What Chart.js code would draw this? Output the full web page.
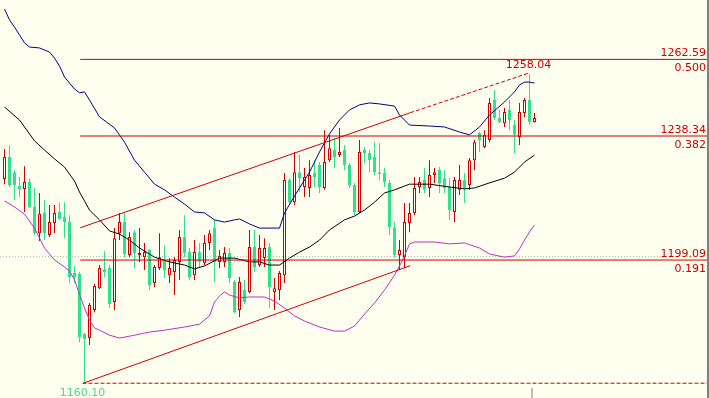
<!DOCTYPE html>
<html>
<head>
<meta charset="utf-8">
<script src="https://cdn.jsdelivr.net/npm/chart.js@4.4.1/dist/chart.umd.min.js"></script>
<style>
  html, body { margin: 0; padding: 0; background: #fffff0; }
  #wrap { width: 707px; height: 398px; border-right: 2px solid #808080; }
</style>
</head>
<body>
<div id="wrap"><canvas id="myChart" width="707" height="398"></canvas></div>
<script>
// candles, oldest first
const opens = [1224.7,1231.7,1226.9,1222.5,1221.6,1223.8,1215.9,1207.6,1214.0,1207.0,
  1210.8,1214.3,1212.7,1211.1,1195.0,1194.7,1175.7,1174.4,1183.3,1190.2,
  1196.2,1196.6,1185.8,1207.6,1211.1,1200.7,1207.9,1200.7,1200.0,1202.3,
  1191.8,1196.6,1199.1,1194.3,1195.3,1198.5,1206.4,1201.6,1194.3,1201.6,
  1198.1,1204.5,1209.2,1198.5,1198.5,1201.3,1192.1,1183.3,1189.6,1189.0,
  1203.2,1197.5,1199.7,1203.2,1189.0,1189.6,1194.3,1224.4,1217.4,1226.9,
  1222.2,1221.9,1226.6,1229.2,1221.9,1230.7,1233.9,1232.3,1233.9,1229.2,
  1222.8,1214.3,1233.9,1233.0,1231.7,1226.9,1226.6,1223.5,1209.5,1200.7,
  1200.0,1210.8,1214.0,1222.2,1224.4,1221.9,1226.0,1227.6,1225.0,1222.2,
  1214.3,1221.3,1224.4,1222.8,1230.7,1239.3,1234.9,1237.1,1249.7,1244.0,
  1242.4,1246.6,1241.8,1238.0,1245.6,1249.7,1242.8];
const highs = [1234.2,1235.5,1227.6,1225.4,1228.8,1225.0,1221.9,1220.3,1218.1,1216.5,
  1216.5,1217.4,1217.4,1213.3,1197.2,1195.3,1176.0,1185.5,1191.5,1197.5,
  1201.9,1197.5,1209.2,1214.0,1214.3,1207.9,1208.6,1209.2,1204.5,1202.6,
  1197.5,1207.6,1203.8,1199.7,1200.0,1208.6,1213.3,1202.9,1205.4,1204.5,
  1207.0,1208.6,1211.8,1202.3,1203.2,1202.9,1192.8,1193.7,1192.8,1208.6,
  1208.6,1207.0,1206.0,1204.5,1193.4,1195.6,1226.6,1225.0,1233.3,1232.3,
  1228.2,1230.7,1230.7,1230.1,1240.2,1238.7,1237.7,1240.9,1235.5,1229.8,
  1223.5,1237.1,1234.9,1233.9,1236.4,1236.1,1228.2,1224.4,1211.1,1205.4,
  1217.1,1217.1,1225.4,1225.4,1228.2,1230.7,1228.2,1228.5,1227.6,1225.0,
  1225.4,1229.2,1226.6,1231.4,1237.1,1239.6,1240.2,1250.4,1252.9,1246.6,
  1247.2,1249.7,1243.4,1248.8,1250.4,1258.04,1245.6];
const lows = [1223.1,1222.2,1218.1,1219.0,1214.3,1215.5,1207.0,1205.1,1205.4,1206.4,
  1207.6,1211.8,1206.0,1191.8,1191.8,1173.1,1160.10,1172.2,1182.6,1189.9,
  1193.7,1183.9,1183.3,1205.4,1200.0,1200.0,1196.6,1198.5,1195.9,1189.6,
  1190.5,1195.9,1193.4,1191.8,1188.0,1192.8,1200.0,1192.8,1192.8,1196.6,
  1197.5,1202.3,1192.1,1196.6,1196.9,1191.8,1182.3,1181.1,1185.2,1188.6,
  1195.3,1196.9,1196.9,1183.9,1183.3,1186.4,1191.8,1216.5,1216.5,1220.6,
  1219.0,1219.0,1222.2,1220.3,1221.3,1230.1,1228.2,1231.7,1227.6,1221.9,
  1213.3,1214.0,1229.8,1226.9,1226.0,1224.4,1222.2,1207.0,1200.0,1195.9,
  1196.6,1207.9,1213.3,1220.3,1220.3,1219.0,1223.5,1220.3,1220.3,1211.8,
  1211.1,1219.7,1217.1,1221.3,1227.6,1233.3,1234.5,1236.4,1243.4,1242.4,
  1241.2,1240.2,1233.0,1235.5,1244.3,1241.8,1242.6];
const closes = [1231.7,1222.8,1222.8,1221.6,1223.8,1215.9,1207.6,1213.7,1207.6,1211.1,
  1214.0,1212.1,1211.1,1193.7,1193.7,1174.7,1174.1,1184.9,1190.9,1196.6,
  1195.3,1185.2,1206.0,1211.1,1201.0,1206.4,1201.3,1201.3,1201.6,1191.2,
  1196.9,1200.0,1195.9,1196.6,1199.1,1206.4,1201.3,1193.7,1201.6,1198.5,
  1204.5,1207.6,1198.5,1200.4,1201.3,1193.4,1182.6,1192.1,1185.8,1203.2,
  1196.9,1202.9,1202.9,1190.5,1190.2,1195.0,1224.4,1217.4,1226.9,1225.0,
  1225.4,1226.0,1225.4,1222.2,1230.1,1234.5,1231.7,1233.3,1229.2,1222.8,
  1214.3,1233.3,1233.0,1230.7,1226.9,1226.3,1223.8,1209.5,1200.7,1202.3,
  1211.1,1214.0,1221.9,1223.8,1221.3,1226.0,1226.9,1223.5,1221.9,1214.9,
  1224.4,1224.4,1221.9,1230.7,1236.4,1237.1,1238.7,1248.8,1244.0,1242.8,
  1245.9,1243.4,1238.7,1245.9,1249.7,1242.8,1244.0];

// band lines as [bar index, price]
const upperBand = [[0,1278.5],[1,1275.1],[2,1272.8],[4,1267.8],[5,1266.5],[7,1266.2],[9,1264.9],
  [10,1263.0],[11,1260.5],[12,1257.0],[14,1253.2],[15,1252.0],[16,1252.3],[17,1249.7],[19,1244.4],
  [22,1240.9],[24,1236.4],[26,1230.7],[28,1226.9],[30,1223.1],[32,1221.3],[34,1219.0],[36,1216.8],
  [38,1214.3],[40,1214.0],[42,1211.8],[44,1211.1],[46,1211.8],[47,1212.1],[49,1210.5],[51,1209.2],
  [55,1209.2],[56,1214.0],[58,1219.3],[59,1221.9],[61,1226.9],[63,1233.3],[65,1239.0],[67,1243.4],
  [69,1246.6],[71,1248.2],[73,1248.8],[75,1248.5],[78,1247.8],[79,1245.0],[81,1241.8],[85,1241.5],
  [88,1241.2],[91,1239.6],[93,1238.7],[95,1241.2],[97,1245.0],[100,1249.1],[102,1252.3],[103,1254.5],
  [104,1255.4],[105,1255.4],[106,1255.1]];
const middleBand = [[0,1247.5],[3,1243.4],[6,1236.8],[8,1233.9],[10,1231.1],[12,1228.5],[14,1224.1],
  [15,1220.6],[16,1217.8],[17,1214.9],[19,1211.8],[21,1208.3],[23,1207.3],[25,1205.4],[27,1202.9],
  [30,1200.0],[33,1198.5],[36,1197.5],[38,1196.3],[40,1197.2],[43,1199.7],[46,1199.7],[49,1198.5],
  [51,1198.5],[53,1197.5],[55,1197.5],[57,1199.7],[59,1201.6],[61,1203.2],[63,1205.4],[65,1208.6],
  [68,1211.8],[70,1213.0],[72,1214.9],[74,1217.4],[76,1220.3],[78,1221.3],[80,1222.5],[81,1223.1],
  [85,1223.1],[89,1222.2],[92,1221.6],[94,1221.9],[97,1223.5],[100,1225.0],[102,1226.9],[104,1230.1],
  [106,1232.3]];
const lowerBand = [[0,1217.8],[2,1215.9],[4,1213.6],[6,1209.2],[8,1202.9],[10,1199.1],[12,1196.9],
  [13,1195.6],[14,1192.8],[15,1188.3],[16,1183.9],[17,1180.1],[18,1177.6],[19,1176.9],[21,1175.3],
  [23,1174.4],[26,1175.3],[29,1176.3],[32,1176.9],[36,1177.9],[39,1178.8],[41,1181.4],[42,1185.8],
  [43,1187.7],[44,1189.0],[45,1188.0],[47,1187.1],[49,1187.4],[52,1187.4],[54,1186.1],[56,1183.9],
  [58,1181.4],[60,1179.8],[63,1177.9],[66,1176.6],[68,1176.6],[70,1178.2],[72,1182.0],[74,1185.5],
  [76,1189.6],[78,1194.3],[79,1197.2],[80,1200.4],[81,1204.2],[82,1204.8],[86,1204.8],[89,1204.2],
  [92,1204.5],[95,1202.9],[97,1201.0],[100,1200.0],[102,1200.4],[103,1202.6],[104,1205.4],
  [105,1208.0],[106,1210.2]];

// drawn objects
const fibLevels = [1262.59, 1238.34, 1199.09];
const fibRatios = ["0.500", "0.382", "0.191"];
const fibStart = 15.14;
const lowPrice = 1160.10, lowBar = 16, lowLineStart = 15.6;
const highPrice = 1258.04, highBar = 105;
const channelLow = [[15.74, 1160.1], [81.14, 1197.3]];
const channelHigh = [[15.14, 1209.3], [81.14, 1245.7]];
const channelRay = [[81.14, 1245.7], [104.74, 1258.2]];
const bidPrice = 1200.15;
const markerBar = 105.5, markerPrices = [1155.4, 1158.6];

const xMin = -0.9, xMax = 140.5, yMin = 1155.43, yMax = 1281.38;
const red = "#d00000", green = "#2fe08d", paper = "#fffff0";

const bars = opens.map((o, i) => i);
const up = bars.map(i => closes[i] >= opens[i]);
const pts = arr => arr.map(p => ({ x: p[0], y: p[1] }));

function lineSet(points, color, order, dash) {
  return {
    type: "line", data: pts(points), borderColor: color, borderWidth: 1,
    pointRadius: 0, tension: 0, fill: false, order: order, borderDash: dash || []
  };
}

const datasets = [
  {
    type: "bar",
    data: bars.map(i => ({ x: i, y: [lows[i], highs[i]] })),
    backgroundColor: bars.map(i => up[i] ? red : green),
    borderWidth: 0, barThickness: 1, grouped: false, inflateAmount: 0, order: 4
  },
  {
    type: "bar",
    data: bars.map(i => ({ x: i, y: [opens[i], closes[i]] })),
    backgroundColor: bars.map(i => up[i] ? paper : green),
    borderColor: bars.map(i => up[i] ? red : green),
    borderWidth: 1, borderSkipped: false, barThickness: 3, grouped: false, inflateAmount: 0, order: 3
  },
  lineSet(upperBand, "#000080", 2),
  lineSet(middleBand, "#000000", 2),
  lineSet(lowerBand, "#c030c0", 2),
  lineSet([[xMin, bidPrice], [xMax, bidPrice]], "#b0b0b0", 5, [1, 2]),
  lineSet([[markerBar, markerPrices[0]], [markerBar, markerPrices[1]]], "#808080", 5),
  lineSet([[lowLineStart, lowPrice], [xMax, lowPrice]], red, 1, [4, 2]),
  lineSet(channelLow, red, 1),
  lineSet(channelHigh, red, 1),
  lineSet(channelRay, red, 1, [4, 2])
];
fibLevels.forEach(lv => datasets.push(lineSet([[fibStart, lv], [xMax, lv]], red, 1)));

const labelPlugin = {
  id: "labels",
  afterDatasetsDraw(chart) {
    const { ctx, chartArea, scales } = chart;
    const x = scales.x, y = scales.y;
    ctx.save();
    ctx.font = '11px "DejaVu Sans"';
    ctx.fillStyle = red;
    ctx.textAlign = "right";
    ctx.textBaseline = "alphabetic";
    fibLevels.forEach((lv, k) => {
      const py = y.getPixelForValue(lv);
      ctx.fillText(lv.toFixed(2), chartArea.right - 1, py - 3);
      ctx.fillText(fibRatios[k], chartArea.right - 1, py + 12);
    });
    ctx.textAlign = "center";
    ctx.fillText(highPrice.toFixed(2), x.getPixelForValue(highBar) - 1, y.getPixelForValue(highPrice) - 6);
    ctx.fillStyle = "#4fd596";
    ctx.fillText(lowPrice.toFixed(2), x.getPixelForValue(lowBar) - 2, y.getPixelForValue(lowPrice) + 13);
    ctx.restore();
  }
};

new Chart(document.getElementById("myChart"), {
  type: "bar",
  data: { datasets: datasets },
  options: {
    responsive: false,
    animation: false,
    layout: { padding: 0 },
    plugins: { legend: { display: false }, tooltip: { enabled: false } },
    scales: {
      x: { type: "linear", min: xMin, max: xMax, offset: false, display: false },
      y: { type: "linear", min: yMin, max: yMax, display: false }
    }
  },
  plugins: [labelPlugin]
});
</script>
</body>
</html>
